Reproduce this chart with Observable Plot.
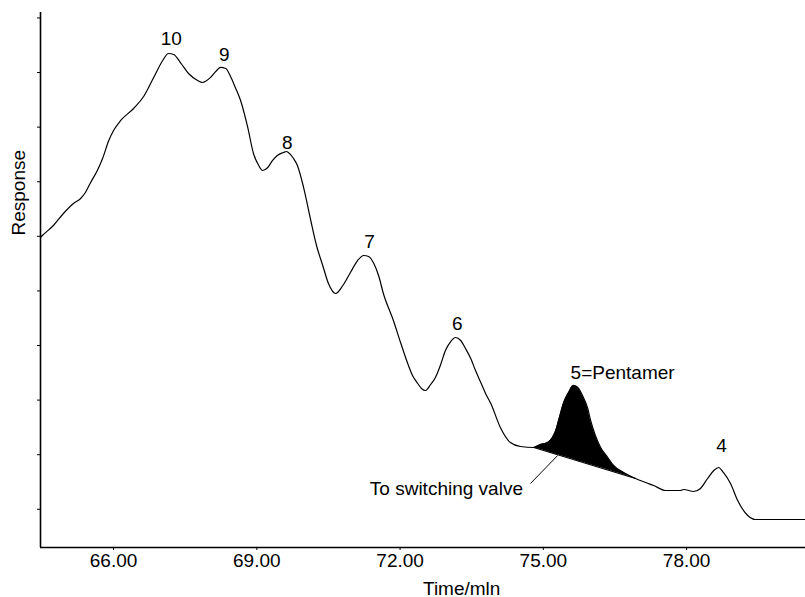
<!DOCTYPE html>
<html>
<head>
<meta charset="utf-8">
<script src="https://cdn.jsdelivr.net/npm/d3@7"></script>
<script src="https://cdn.jsdelivr.net/npm/@observablehq/plot@0.6"></script>
<style>
  html, body { margin: 0; padding: 0; background: #fff; }
</style>
</head>
<body>
<div id="chart"></div>
<script>
// Chromatogram trace (time in minutes, response in arbitrary units)
const time = [64.47, 64.51, 64.74, 64.95, 65.16, 65.31, 65.41, 65.52, 65.66, 65.77, 65.90, 66.00, 66.15, 66.42, 66.63, 66.84, 67.03, 67.15, 67.26, 67.40, 67.57, 67.76, 67.86, 68.03, 68.16, 68.24, 68.35, 68.45, 68.55, 68.66, 68.81, 68.93, 69.04, 69.12, 69.23, 69.33, 69.43, 69.56, 69.62, 69.66, 69.77, 69.85, 69.98, 70.13, 70.25, 70.38, 70.50, 70.65, 70.80, 70.96, 71.11, 71.24, 71.34, 71.45, 71.55, 71.65, 71.86, 72.01, 72.16, 72.26, 72.37, 72.45, 72.53, 72.64, 72.74, 72.85, 72.95, 73.06, 73.16, 73.27, 73.37, 73.48, 73.58, 73.69, 73.79, 73.90, 74.10, 74.31, 74.52, 74.80, 74.94, 75.09, 75.19, 75.26, 75.32, 75.42, 75.53, 75.63, 75.72, 75.82, 75.93, 75.99, 76.09, 76.20, 76.35, 76.47, 76.68, 76.93, 77.14, 77.31, 77.56, 77.87, 77.94, 78.15, 78.29, 78.44, 78.57, 78.67, 78.77, 78.92, 79.07, 79.28, 79.44, 79.70, 80.49];
const response = [59.79, 60.15, 61.98, 64.18, 66.01, 66.93, 68.03, 69.86, 72.06, 74.26, 77.55, 79.39, 81.22, 83.42, 85.61, 89.09, 92.21, 93.49, 93.31, 91.84, 89.83, 88.55, 88.18, 89.09, 90.38, 90.93, 90.74, 89.28, 87.26, 84.88, 79.94, 75.17, 72.97, 72.06, 72.61, 73.89, 74.81, 75.36, 75.54, 75.36, 74.26, 72.97, 68.94, 62.90, 58.32, 54.66, 51.36, 49.53, 50.99, 53.37, 55.57, 56.49, 56.31, 55.02, 52.82, 49.53, 44.58, 40.55, 36.71, 34.51, 33.04, 32.13, 31.76, 32.86, 34.14, 36.52, 39.09, 40.73, 41.47, 40.92, 39.45, 37.62, 35.42, 33.22, 31.21, 29.38, 24.98, 22.23, 21.50, 21.32, 21.87, 22.23, 23.15, 24.43, 26.26, 29.38, 31.39, 32.68, 32.31, 30.84, 28.46, 26.26, 23.52, 21.32, 19.49, 18.02, 16.74, 15.64, 14.91, 14.36, 13.44, 13.44, 13.62, 13.26, 13.81, 15.64, 17.10, 17.65, 16.74, 14.72, 11.61, 8.86, 8.13, 8.13, 8.13];

// Axis ticks
const xTicks = [66, 69, 72, 75, 78];
const yTicks = [10, 20, 30, 40, 50, 60, 70, 80, 90, 100];

// Peak labels (position in time / response units)
const peakLabels = ["10", "9", "8", "7", "6", "5=Pentamer", "4"];
const peakLabelTime = [67.21, 68.32, 69.64, 71.36, 73.20, 76.66, 78.73];
const peakLabelResp = [96.24, 93.31, 77.19, 59.05, 44.03, 35.06, 21.68];

// Drop baseline under the pentamer peak (cut to switching valve)
const baselineTime = [74.80, 76.93];
const baselineResp = [21.32, 15.64];

// Switching valve annotation
const valveLabel = ["To switching valve"];
const valveLabelTime = [72.97];
const valveLabelResp = [13.81];
const valveLeaderTime = [74.73, 75.30];
const valveLeaderResp = [14.72, 19.85];

const xLabel = "Time/mln";
const xLabelTime = 73.29;
const yLabel = "Response";
const yLabelResp = 60.15;

// Build tables
const trace = time.map((t, i) => ({t, v: response[i]}));
const baseAt = t => baselineResp[0] + (t - baselineTime[0]) * (baselineResp[1] - baselineResp[0]) / (baselineTime[1] - baselineTime[0]);
const pentamer = trace
  .filter(d => d.t >= baselineTime[0] && d.t <= baselineTime[1])
  .map(d => ({t: d.t, v: d.v, b: baseAt(d.t)}));
const labels = peakLabels.map((s, i) => ({s, t: peakLabelTime[i], v: peakLabelResp[i]}));
const valve = valveLabel.map((s, i) => ({s, t: valveLabelTime[i], v: valveLabelResp[i]}));
const leader = [{t1: valveLeaderTime[0], v1: valveLeaderResp[0], t2: valveLeaderTime[1], v2: valveLeaderResp[1]}];
const baseLine = baselineTime.map((t, i) => ({t, v: baselineResp[i]}));

const xDomain = [time[0], time[time.length - 1]];
const yDomain = [3, 101];

const font = "'Liberation Sans', Arial, Helvetica, sans-serif";

const chart = Plot.plot({
  width: 805,
  height: 597,
  marginLeft: 40,
  marginRight: 0,
  marginTop: 12,
  marginBottom: 50,
  style: {fontFamily: font, fontSize: "19px", color: "black", background: "white", overflow: "visible"},
  x: {domain: xDomain, label: null},
  y: {domain: yDomain, label: null},
  marks: [
    Plot.axisX({ticks: xTicks, tickFormat: d => d.toFixed(2), tickSize: 3, tickPadding: 3, label: null, fontSize: 19, stroke: "black"}),
    Plot.axisY({ticks: yTicks, tickFormat: () => "", tickSize: 3, label: null, stroke: "black"}),
    Plot.ruleX([xDomain[0]], {stroke: "black", strokeWidth: 1.6}),
    Plot.ruleY([yDomain[0]], {stroke: "black", strokeWidth: 1.6}),
    Plot.areaY(pentamer, {x: "t", y1: "b", y2: "v", fill: "black", curve: "monotone-x"}),
    Plot.line(baseLine, {x: "t", y: "v", stroke: "black", strokeWidth: 1.2}),
    Plot.line(trace, {x: "t", y: "v", stroke: "black", strokeWidth: 1.2, curve: "monotone-x"}),
    Plot.link(leader, {x1: "t1", y1: "v1", x2: "t2", y2: "v2", stroke: "black", strokeWidth: 1}),
    Plot.text(labels, {x: "t", y: "v", text: "s", fill: "black", fontSize: 19, textAnchor: "middle", lineAnchor: "middle"}),
    Plot.text(valve, {x: "t", y: "v", text: "s", fill: "black", fontSize: 19, textAnchor: "middle", lineAnchor: "middle"}),
    Plot.text([{s: xLabel, t: xLabelTime}], {x: "t", text: "s", frameAnchor: "bottom", dy: 41, fill: "black", fontSize: 19, lineAnchor: "middle"}),
    Plot.text([{s: yLabel, v: yLabelResp}], {y: "v", text: "s", frameAnchor: "left", dx: -22, rotate: -90, fill: "black", fontSize: 19, lineAnchor: "middle"})
  ]
});

document.getElementById("chart").appendChild(chart);
</script>
</body>
</html>
